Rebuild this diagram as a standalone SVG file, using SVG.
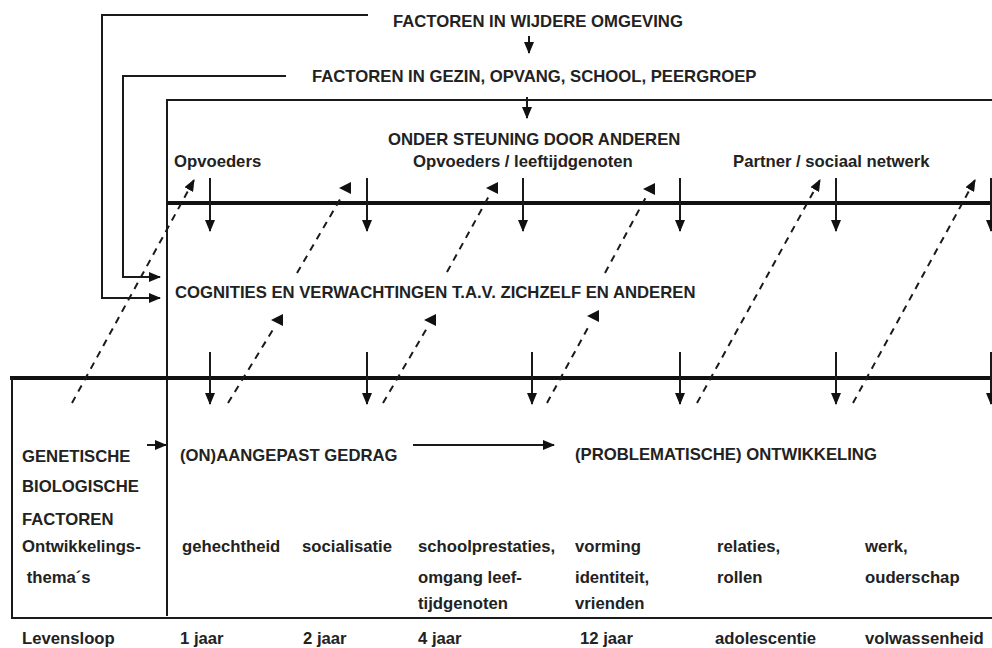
<svg xmlns="http://www.w3.org/2000/svg" width="992" height="648" viewBox="0 0 992 648">
<style>
text{font-family:"Liberation Sans",Arial,sans-serif;font-weight:bold;font-size:16.7px;fill:#222}
.ln{stroke:#1a1a1a;stroke-width:2;fill:none}
.thick{stroke:#111;stroke-width:4;fill:none}
.ar{stroke:#1a1a1a;stroke-width:2;fill:none;marker-end:url(#ah)}
.da{stroke:#1a1a1a;stroke-width:2;fill:none;stroke-dasharray:7 6}
.dau{marker-end:url(#ah)}
.dal{marker-end:url(#ahL)}
</style>
<defs>
<marker id="ah" markerUnits="userSpaceOnUse" markerWidth="12" markerHeight="10" refX="11" refY="5" orient="auto"><path d="M0,0 L12,5 L0,10 z" fill="#111"/></marker>
<marker id="ahL" markerUnits="userSpaceOnUse" markerWidth="14" markerHeight="16" refX="3" refY="14" orient="0"><path d="M0,6 L12,0 L12,12 z" fill="#111"/></marker>
</defs>
<rect width="992" height="648" fill="#fff"/>
<g id="connectors">
<polyline class="ln" points="368,15 102,15 102,298 160,298" marker-end="url(#ah)"/>
<polyline class="ln" points="286,76 123,76 123,277 160,277" marker-end="url(#ah)"/>
<polyline class="ln" points="992,100 167,100 167,616"/>
<line class="thick" x1="167" y1="203" x2="992" y2="203"/>
<line class="thick" x1="10" y1="378" x2="992" y2="378"/>
<polyline class="ln" points="12,378 12,618 992,618"/>
<line class="ar" x1="529" y1="36" x2="529" y2="53"/>
<line class="ar" x1="527" y1="97" x2="527" y2="118"/>
<line class="ar" x1="210" y1="178" x2="210" y2="231"/>
<line class="ar" x1="367" y1="178" x2="367" y2="231"/>
<line class="ar" x1="523" y1="178" x2="523" y2="231"/>
<line class="ar" x1="680" y1="178" x2="680" y2="231"/>
<line class="ar" x1="836" y1="178" x2="836" y2="231"/>
<line class="ar" x1="991" y1="178" x2="991" y2="231"/>
<line class="ar" x1="210" y1="352" x2="210" y2="404"/>
<line class="ar" x1="367" y1="352" x2="367" y2="404"/>
<line class="ar" x1="532" y1="352" x2="532" y2="404"/>
<line class="ar" x1="680" y1="352" x2="680" y2="404"/>
<line class="ar" x1="836" y1="352" x2="836" y2="404"/>
<line class="ar" x1="991" y1="352" x2="991" y2="404"/>
<line class="da dau" x1="72" y1="403" x2="194" y2="180"/>
<line class="da dal" x1="228" y1="403" x2="274" y2="328"/>
<line class="da dal" x1="297" y1="273" x2="342" y2="196"/>
<line class="da dal" x1="383" y1="403" x2="427" y2="328"/>
<line class="da dal" x1="447" y1="272" x2="489" y2="196"/>
<line class="da dal" x1="547" y1="403" x2="590" y2="324"/>
<line class="da dal" x1="605" y1="273" x2="646" y2="197"/>
<line class="da dau" x1="697" y1="403" x2="820" y2="180"/>
<line class="da dau" x1="853" y1="403" x2="975" y2="180"/>
<line class="ar" x1="147" y1="445" x2="166" y2="445"/>
<line class="ar" x1="413" y1="445" x2="554" y2="445"/>
</g>
<g id="wider"><text x="393" y="27">FACTOREN IN WIJDERE OMGEVING</text></g>
<g id="gezin"><text x="312" y="82">FACTOREN IN GEZIN, OPVANG, SCHOOL, PEERGROEP</text></g>
<g id="steun">
<text x="388" y="145">ONDER STEUNING DOOR ANDEREN</text>
<text x="174" y="167">Opvoeders</text>
<text x="413" y="167">Opvoeders / leeftijdgenoten</text>
<text x="733" y="167">Partner / sociaal netwerk</text>
</g>
<g id="cognities"><text x="175" y="298">COGNITIES EN VERWACHTINGEN T.A.V. ZICHZELF EN ANDEREN</text></g>
<g id="genetisch">
<text x="22" y="462">GENETISCHE</text>
<text x="22" y="492">BIOLOGISCHE</text>
<text x="22" y="525">FACTOREN</text>
</g>
<g id="gedrag"><text x="180" y="461">(ON)AANGEPAST GEDRAG</text></g>
<g id="ontwikkeling"><text x="575" y="460">(PROBLEMATISCHE) ONTWIKKELING</text></g>
<g id="themas">
<text x="22" y="552">Ontwikkelings-</text>
<text x="22" y="583" xml:space="preserve"> thema´s</text>
<text x="182" y="552">gehechtheid</text>
<text x="302" y="552">socialisatie</text>
<text x="418" y="552">schoolprestaties,</text>
<text x="418" y="583">omgang leef-</text>
<text x="418" y="609">tijdgenoten</text>
<text x="575" y="552">vorming</text>
<text x="575" y="583">identiteit,</text>
<text x="575" y="609">vrienden</text>
<text x="717" y="552">relaties,</text>
<text x="717" y="583">rollen</text>
<text x="865" y="552">werk,</text>
<text x="865" y="583">ouderschap</text>
</g>
<g id="levensloop">
<text x="22" y="644">Levensloop</text>
<text x="180" y="644">1 jaar</text>
<text x="303" y="644">2 jaar</text>
<text x="418" y="644">4 jaar</text>
<text x="580" y="644">12 jaar</text>
<text x="715" y="644">adolescentie</text>
<text x="865" y="644">volwassenheid</text>
</g>
</svg>
